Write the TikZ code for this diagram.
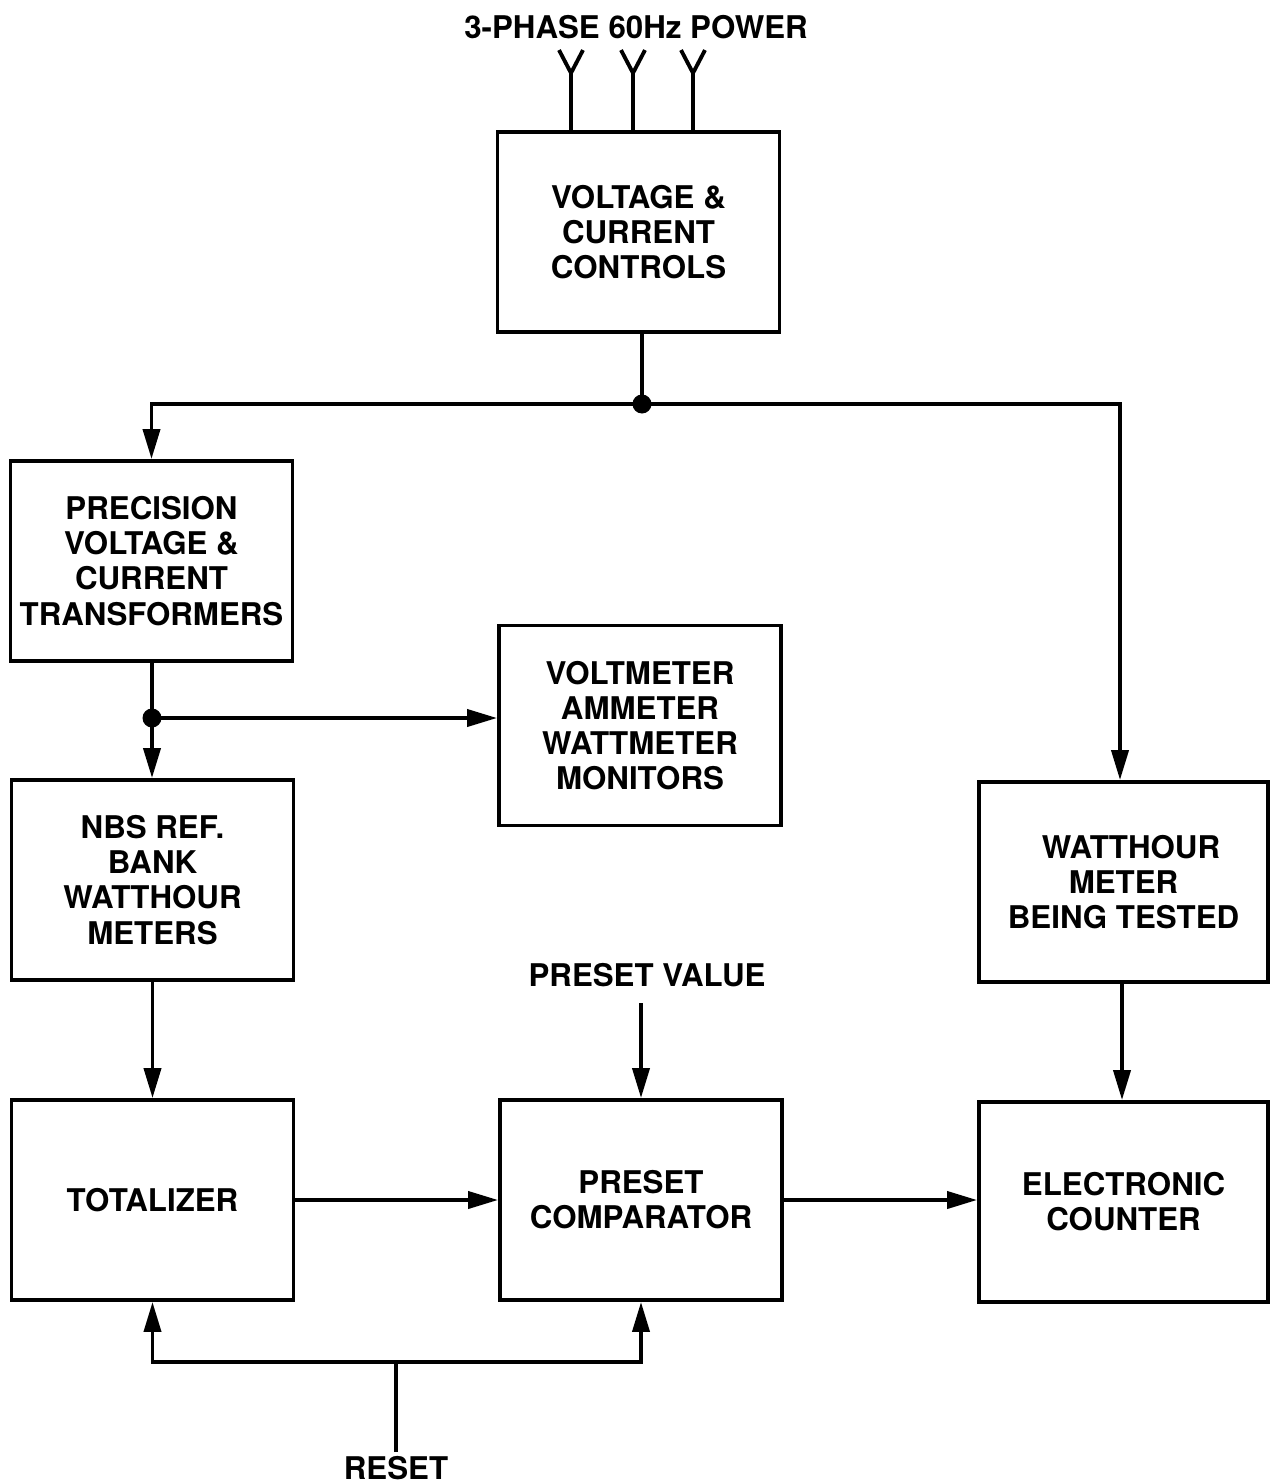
\documentclass[tikz,border=0pt]{standalone}
\usepackage{fontspec}
\setmainfont{TeX Gyre Heros}
\usepackage{tikz}
\usetikzlibrary{arrows.meta, positioning, calc}

\begin{document}
\begin{tikzpicture}[
  % every block is the same 2 cm tall; the right column is a touch wider
  block/.style={
    draw, line width=1.1pt, minimum width=2.82cm, minimum height=2cm,
    align=center, font=\bfseries\fontsize{8.9}{10}\selectfont, inner sep=1pt
  },
  wideblock/.style={block, minimum width=2.89cm},
  flow/.style={-{Triangle[length=3mm,width=1.7mm]}, line width=1.1pt},
  wire/.style={line width=1.1pt},
  tag/.style={font=\bfseries\fontsize{8.9}{10}\selectfont, inner sep=1pt},
  dot/.style={circle, fill, inner sep=0pt, minimum size=1.9mm}
]
\useasboundingbox (0,0) rectangle (12.77,-14.84);

% --- blocks ------------------------------------------------------------------
\node[block] (vcc)  at (6.385,-2.32)  {VOLTAGE \&\\CURRENT\\CONTROLS};
\node[block] (prec) at (1.515,-5.61)  {PRECISION\\VOLTAGE \&\\CURRENT\\TRANSFORMERS};
\node[block] (mon)  at (6.40,-7.255)  {VOLTMETER\\AMMETER\\WATTMETER\\MONITORS};
\node[block] (nbs)  at (1.525,-8.80)  {NBS REF.\\BANK\\WATTHOUR\\METERS};
\node[wideblock] (wmt) at (11.235,-8.82) {\hspace*{0.15cm}WATTHOUR\\METER\\BEING TESTED};
\node[block] (tot)  at (1.525,-12.00) {TOTALIZER};
\node[block] (comp) at (6.41,-12.00)  {PRESET\\COMPARATOR};
\node[wideblock] (cnt) at (11.235,-12.02) {ELECTRONIC\\COUNTER};

% --- free labels -------------------------------------------------------------
\node[tag] (pwr)   at (6.36,-0.27)  {3-PHASE 60Hz POWER};
\node[tag] (pval)  at (6.47,-9.75)  {PRESET VALUE};
\node[tag] (reset) at (3.96,-14.68) {RESET};

% --- three phase feeds into the controls -------------------------------------
\foreach \x in {5.71,6.33,6.93} {
  \draw[wire] (vcc.north -| \x,0) -- ++(0,0.57) coordinate (fork)
    -- ++(-0.12,0.23);
  \draw[wire] (fork) -- ++(0.12,0.23);
}

% --- distribution from the controls ------------------------------------------
\coordinate (split) at (6.42,-4.04);
\draw[wire] (vcc.south -| split) -- (split);
\draw[flow] (split) -| (prec.north);
\draw[flow] (split) -| ([xshift=-0.035cm]wmt.north);
\node[dot] at (split) {};

\coordinate (tap) at (1.52,-7.18);
\draw[wire] (prec.south -| tap) -- (tap);
\draw[flow] (tap) -- (tap |- nbs.north);
\draw[flow] (tap) -- (tap -| mon.west);
\node[dot] at (tap) {};

% --- counting chain ----------------------------------------------------------
\draw[flow] (nbs.south) -- (tot.north);
\draw[flow] ([xshift=-0.015cm]wmt.south) -- ([xshift=-0.015cm]cnt.north);
\draw[flow] (tot.east) -- (comp.west);
\draw[flow] (comp.east) -- (comp.east -| cnt.west);
\draw[flow] ([yshift=-0.12cm]pval.south -| comp.north) -- (comp.north);

% --- reset to both -----------------------------------------------------------
\coordinate (rjoin) at (3.96,-13.62);
\draw[wire] (reset.north) -- (rjoin);
\draw[flow] (rjoin) -| (tot.south);
\draw[flow] (rjoin) -| (comp.south);

\end{tikzpicture}
\end{document}
